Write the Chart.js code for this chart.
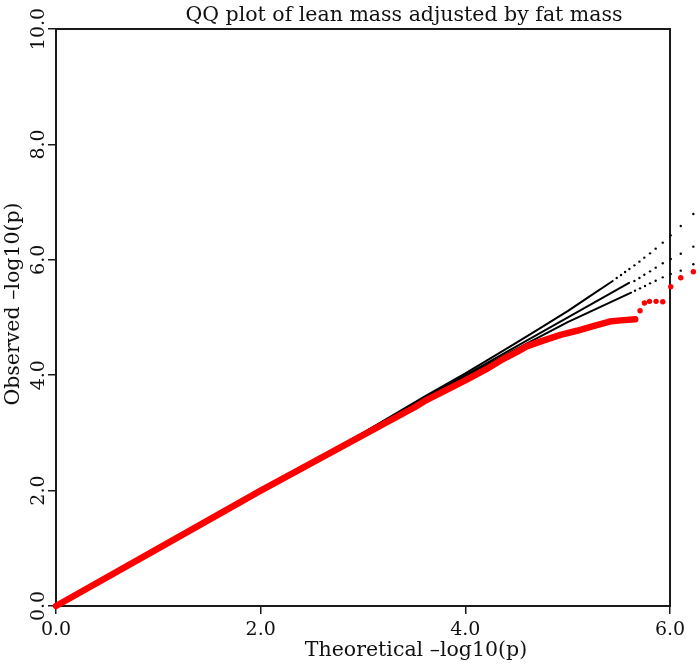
<!DOCTYPE html>
<html>
<head>
<meta charset="utf-8">
<script src="https://cdn.jsdelivr.net/npm/chart.js@4"></script>
<style>
  html, body { margin: 0; padding: 0; background: #fff; }
  #wrap { width: 700px; height: 665px; }
</style>
</head>
<body>
<div id="wrap"><canvas id="qq"></canvas></div>
<script>
/* globals Chart */

// tick values
var xTicks = [0, 2, 4, 6];
var yTicks = [0, 2, 4, 6, 8, 10];
var xFrameMax = 6;

// observed -log10(p), dense part (red band) and the last separate points
var obsX = [0, 1, 2, 2.5, 3.0, 3.5, 3.6, 4.0, 4.2, 4.35, 4.5, 4.6, 4.76, 4.93, 5.09, 5.25, 5.41, 5.52, 5.66];
var obsY = [0, 1, 2, 2.48, 2.96, 3.44, 3.55, 3.91, 4.10, 4.26, 4.40, 4.50, 4.60, 4.70, 4.77, 4.85, 4.93, 4.95, 4.97];
var obsTailX = [5.707, 5.750, 5.799, 5.864, 5.929, 6.007, 6.105, 6.228];
var obsTailY = [5.118, 5.251, 5.280, 5.280, 5.274, 5.534, 5.690, 5.794];

// expected line and the two bounds (black)
var upX = [0, 3.0, 3.6, 4.0, 4.44, 4.7, 5.0, 5.2, 5.44];
var upY = [0, 3.0, 3.63, 4.03, 4.50, 4.78, 5.11, 5.35, 5.633];
var upTailX = [5.479, 5.521, 5.561, 5.603, 5.652, 5.701, 5.749, 5.805, 5.860, 5.929, 6.007, 6.105, 6.228];
var upTailY = [5.685, 5.737, 5.789, 5.840, 5.904, 5.968, 6.037, 6.112, 6.193, 6.297, 6.424, 6.586, 6.794];

var midX = [0, 5.60];
var midY = [0, 5.60];
var midTailX = [5.652, 5.701, 5.749, 5.805, 5.860, 5.929, 6.007, 6.105, 6.228];
var midTailY = [5.633, 5.685, 5.742, 5.800, 5.864, 5.939, 6.014, 6.106, 6.228];

var lowX = [0, 4.0, 4.44, 5.0, 5.62];
var lowY = [0, 3.98, 4.40, 4.92, 5.43];
var lowTailX = [5.658, 5.707, 5.756, 5.805, 5.860, 5.929, 6.007, 6.105, 6.228];
var lowTailY = [5.465, 5.505, 5.546, 5.592, 5.638, 5.696, 5.754, 5.812, 5.922];

var FONT = "'DejaVu Serif', serif";

function pts(xs, ys) {
    var out = [];
    for (var i = 0; i < xs.length; i++) out.push({ x: xs[i], y: ys[i] });
    return out;
}

function lineSet(xs, ys, color, width) {
    return {
        data: pts(xs, ys), showLine: true, borderColor: color, borderWidth: width,
        pointRadius: 0, borderCapStyle: 'round', borderJoinStyle: 'round', clip: false
    };
}

function dotSet(xs, ys, color, r) {
    return {
        data: pts(xs, ys), showLine: false, pointRadius: r, pointBackgroundColor: color,
        pointBorderWidth: 0, clip: false
    };
}

var qqText = {
    id: 'qqText',
    beforeDatasetsDraw: function(chart) {
        var a = chart.chartArea, ctx = chart.ctx;
        var right = chart.scales.x.getPixelForValue(xFrameMax);
        ctx.save();
        ctx.strokeStyle = '#1a1a1a';
        ctx.lineWidth = 2;
        ctx.strokeRect(a.left, a.top, right - a.left, a.bottom - a.top);
        ctx.restore();
    },
    afterDraw: function(chart) {
        var ctx = chart.ctx, sx = chart.scales.x, sy = chart.scales.y;
        ctx.save();
        ctx.fillStyle = '#111';
        ctx.textBaseline = 'alphabetic';
        ctx.textAlign = 'center';

        ctx.font = '19px ' + FONT;
        xTicks.forEach(function(v) {
            ctx.fillText(v.toFixed(1), sx.getPixelForValue(v), 635);
        });
        yTicks.forEach(function(v) {
            ctx.save();
            ctx.translate(44, sy.getPixelForValue(v));
            ctx.rotate(-Math.PI / 2);
            ctx.fillText(v.toFixed(1), 0, 0);
            ctx.restore();
        });

        ctx.font = '20.5px ' + FONT;
        ctx.fillText('QQ plot of lean mass adjusted by fat mass', 404, 21);
        ctx.fillText('Theoretical \u2013log10(p)', 416, 656);

        ctx.translate(18.5, 304);
        ctx.rotate(-Math.PI / 2);
        ctx.fillText('Observed \u2013log10(p)', 0, 0);
        ctx.restore();
    }
};

var tickGrid = {
    display: true, drawOnChartArea: false, drawTicks: true,
    tickLength: 8, color: '#1a1a1a', lineWidth: 1.5
};

new Chart(document.getElementById('qq'), {
    type: 'scatter',
    data: {
        datasets: [
            dotSet(obsTailX, obsTailY, '#ff0000', 2.7),
            lineSet(obsX, obsY, '#ff0000', 6.5),
            dotSet(upTailX, upTailY, '#000', 1.2),
            dotSet(midTailX, midTailY, '#000', 1.2),
            dotSet(lowTailX, lowTailY, '#000', 1.2),
            lineSet(upX, upY, '#000', 2),
            lineSet(midX, midY, '#000', 2),
            lineSet(lowX, lowY, '#000', 2)
        ]
    },
    options: {
        responsive: true,
        maintainAspectRatio: false,
        animation: false,
        layout: { autoPadding: false, padding: { top: 29, right: 0, left: 0, bottom: 0 } },
        plugins: { legend: { display: false }, tooltip: { enabled: false }, title: { display: false } },
        scales: {
            x: {
                // the right frame sits at 6.0, a few points lie past it
                type: 'linear', min: 0, max: 6.293,
                afterFit: function(s) { s.height = 59; },
                afterBuildTicks: function(s) { s.ticks = xTicks.map(function(v) { return { value: v }; }); },
                ticks: { display: false },
                grid: tickGrid,
                border: { display: false }
            },
            y: {
                type: 'linear', min: 0, max: 10,
                afterFit: function(s) { s.width = 56; },
                afterBuildTicks: function(s) { s.ticks = yTicks.map(function(v) { return { value: v }; }); },
                ticks: { display: false },
                grid: tickGrid,
                border: { display: false }
            }
        }
    },
    plugins: [qqText]
});
</script>
</body>
</html>
